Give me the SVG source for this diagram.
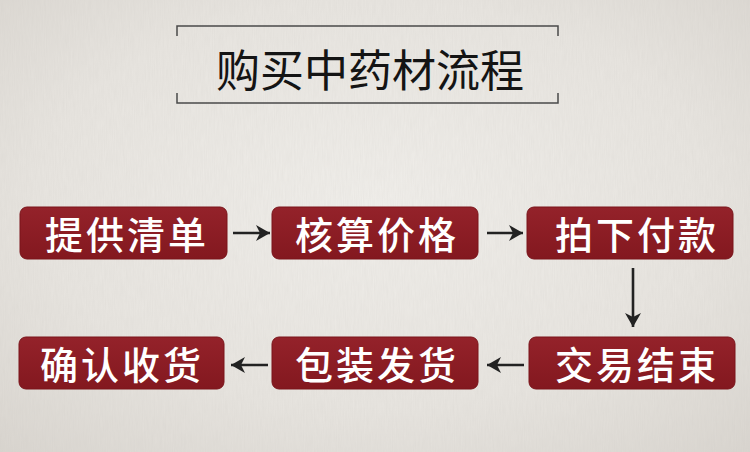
<svg xmlns="http://www.w3.org/2000/svg" width="750" height="452" viewBox="0 0 750 452">
  <defs>
    <radialGradient id="bg" cx="50%" cy="45%" r="75%">
      <stop offset="0" stop-color="#f1efeb"/>
      <stop offset="0.6" stop-color="#e8e5e0"/>
      <stop offset="1" stop-color="#d9d5cf"/>
    </radialGradient>
    <filter id="paper" x="0" y="0" width="100%" height="100%">
      <feTurbulence type="fractalNoise" baseFrequency="0.9 0.06" numOctaves="3" seed="4" result="n"/>
      <feColorMatrix type="matrix" values="0 0 0 0 0.55  0 0 0 0 0.53  0 0 0 0 0.5  0 0 0 0.18 0" />
    </filter>
    <linearGradient id="boxfill" x1="0" y1="0" x2="0" y2="1">
      <stop offset="0" stop-color="#94222a"/>
      <stop offset="1" stop-color="#83181f"/>
    </linearGradient>
    <marker id="arrow" markerUnits="userSpaceOnUse" viewBox="0 0 14 16" markerWidth="14" markerHeight="16" refX="14" refY="8" orient="auto">
      <path d="M0,0 L14,8 L0,16 L4,8 z" fill="#222"/>
    </marker>
    <style>
      .box { fill: url(#boxfill); stroke: #7a141a; stroke-width: 1; }
      .label { fill: #ffffff; font-family: "Noto Sans CJK SC", "Noto Sans", sans-serif; font-size: 38px; font-weight: 500; letter-spacing: 3px; text-anchor: middle; dominant-baseline: central; }
      .title { fill: #141414; font-family: "Noto Sans CJK SC", "Noto Sans", sans-serif; font-size: 44px; font-weight: 400; text-anchor: middle; dominant-baseline: central; }
      .frame { stroke: #4a4a4a; stroke-width: 1.5; fill: none; }
      .conn { stroke: #222; stroke-width: 2.6; fill: none; marker-end: url(#arrow); }
    </style>
  </defs>

  <rect x="0" y="0" width="750" height="452" fill="url(#bg)"/>
  <rect x="0" y="0" width="750" height="452" filter="url(#paper)"/>

  <g id="title">
    <path class="frame" d="M177,36 V26 H558 V36"/>
    <path class="frame" d="M177,93 V103 H558 V93"/>
    <text class="title" x="370" y="68">购买中药材流程</text>
  </g>

  <g id="connectors">
    <line class="conn" x1="233" y1="233" x2="270" y2="233"/>
    <line class="conn" x1="487" y1="233" x2="523" y2="233"/>
    <line class="conn" x1="633" y1="268" x2="633" y2="327"/>
    <line class="conn" x1="524" y1="365" x2="487" y2="365"/>
    <line class="conn" x1="268" y1="365" x2="231" y2="365"/>
  </g>

  <g id="n1">
    <rect class="box" x="20" y="207" width="207" height="52" rx="7"/>
    <text class="label" x="127" y="232">提供清单</text>
  </g>
  <g id="n2">
    <rect class="box" x="272" y="207" width="206" height="52" rx="7"/>
    <text class="label" x="377" y="232">核算价格</text>
  </g>
  <g id="n3">
    <rect class="box" x="527" y="207" width="206" height="52" rx="7"/>
    <text class="label" x="637" y="232">拍下付款</text>
  </g>
  <g id="n4">
    <rect class="box" x="529" y="337" width="206" height="52" rx="7"/>
    <text class="label" x="637" y="362">交易结束</text>
  </g>
  <g id="n5">
    <rect class="box" x="272" y="337" width="206" height="52" rx="7"/>
    <text class="label" x="377" y="362">包装发货</text>
  </g>
  <g id="n6">
    <rect class="box" x="19" y="337" width="205" height="52" rx="7"/>
    <text class="label" x="122" y="362">确认收货</text>
  </g>
</svg>
